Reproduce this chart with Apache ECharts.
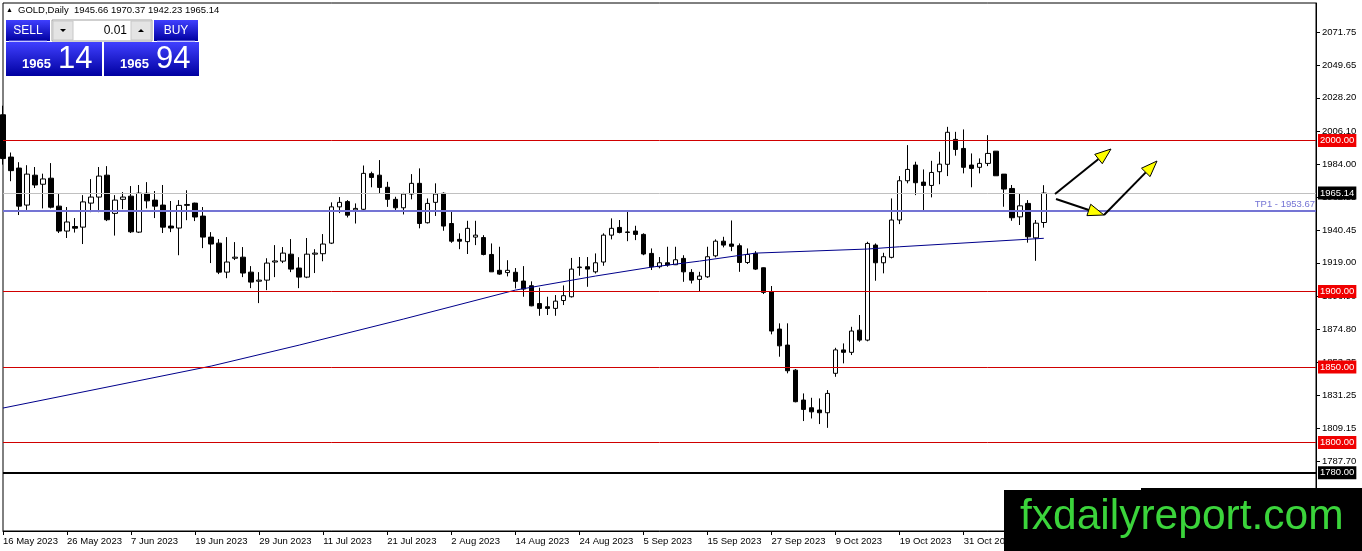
<!DOCTYPE html>
<html>
<head>
<meta charset="utf-8">
<title>GOLD Daily</title>
<script src="https://cdn.jsdelivr.net/npm/echarts@6.0.0/dist/echarts.min.js"></script>
<style>
html,body{margin:0;padding:0;background:#fff;}
#main{width:1362px;height:551px;}
</style>
</head>
<body>
<div id="main"></div>
<script>
// daily OHLC, 16 May 2023 .. 14 Nov 2023
var opens = [2017,1989,1981.7,1957.2,1977,1971,1975,1956.5,1940,1943,
  1942.6,1958.5,1962.5,1977,1951.7,1961,1963.1,1939.3,1965,1960.5,
  1957.2,1943.3,1942,1957,1958.5,1949.9,1936,1932,1912.8,1922,
  1922.7,1912.8,1906.8,1907.5,1919.5,1920.1,1924.7,1915.5,1909.5,1924.7,
  1925,1932,1956,1959.5,1954,1954.4,1978,1977,1969,1961,
  1955.4,1964.5,1971.6,1945.5,1959,1965,1945,1934.5,1933,1936,
  1935.7,1924.5,1914,1912.5,1912.7,1906.9,1903.8,1892,1889.9,1888.8,
  1894,1896.5,1915.8,1916.4,1913,1919.5,1937.3,1942.4,1939.4,1940,
  1937.8,1925.2,1916.4,1919,1917.7,1921.9,1912.6,1908,1909.7,1923.6,
  1933.3,1931.4,1930.3,1919.2,1925.2,1915.7,1899.8,1875.1,1864.5,1847.9,
  1828.1,1823,1821.5,1819.7,1845.8,1861.3,1859.7,1874.4,1867.8,1930.7,
  1919,1922.6,1947.3,1973.3,1983.7,1972.4,1970.2,1979.3,1984.2,2000.7,
  1994.7,1983.7,1982.2,1984.8,1992.9,1977.7,1968.2,1949.4,1958.3,1935.5,
  1945.66];
var highs = [2023,1992,1985.6,1983.6,1982.4,1978,1985,1964.5,1955.9,1948.6,
  1963.8,1974.4,1982.4,1983,1963.8,1965.8,1969.8,1970.5,1972.4,1966.5,
  1970.5,1959.9,1960.5,1967,1958.8,1955.9,1939.3,1934.7,1936,1932.7,
  1929.4,1916.8,1912.8,1922,1930.7,1929.4,1934.7,1922.7,1935.4,1928,
  1938,1959,1962.5,1960.5,1958.3,1983.4,1979.3,1987,1972.6,1962.7,
  1965.3,1977.7,1981.5,1961.6,1971.6,1965.6,1952.8,1938.5,1946.8,1946.8,
  1937.3,1931.8,1929.6,1920.7,1915.5,1916.8,1906.7,1902.5,1896.5,1897.6,
  1904,1922.2,1922.8,1922.8,1925.2,1938.5,1948.4,1947.3,1952.8,1943.5,
  1938.5,1928.5,1922.8,1929.6,1929.6,1924,1914.8,1913,1929.6,1934.5,
  1936.2,1947,1931.8,1928.5,1926.7,1915.9,1903.6,1878.9,1878.9,1848.6,
  1832.5,1829.6,1829.2,1834.7,1862.7,1865.6,1876.6,1884.4,1932.9,1931.8,
  1925.6,1961.6,1976.4,1996.9,1985.9,1980.8,1986.5,1992.5,2009,2005.7,
  2007.3,1991.4,1988.1,2003.5,1993,1977.7,1970.5,1964.5,1960.5,1947.3,
  1970.37];
var lows = [1984,1973,1950.6,1954,1968.5,1955,1955,1938.7,1935.4,1939,
  1931.4,1952.5,1952.5,1946.6,1937,1954.5,1938.7,1938.7,1955,1948.6,
  1938.7,1939.3,1924,1947.2,1946.6,1928.7,1918.8,1911.5,1908.8,1920.8,
  1909.5,1902.2,1892.3,1900.9,1909.5,1918.8,1912.8,1902.2,1908.8,1912.2,
  1920,1931.4,1951.9,1949,1945,1953.5,1969,1964.9,1956,1952.8,
  1951,1961,1941.8,1945,1950,1940.2,1932.2,1928,1924.8,1930.7,
  1923.9,1913,1911,1910,1902,1896.5,1890.2,1883.9,1884.4,1883.9,
  1891,1896,1910.4,1903.1,1911.9,1917,1934.5,1938.5,1933.3,1934,
  1924,1914.2,1915.3,1916.4,1917.5,1906.4,1905.3,1900.3,1909,1922.6,
  1929.2,1926.7,1913,1918.2,1914.2,1898.3,1871.6,1856.8,1845.8,1826.6,
  1814.2,1815.9,1812.2,1809.7,1843.5,1852.4,1857.9,1866.7,1867,1907.1,
  1912,1921.9,1944.6,1971.6,1963.8,1953.4,1962.3,1971,1976.4,1989.9,
  1978.2,1969,1978.2,1983,1976.6,1956.1,1946.8,1944,1932.3,1920.3,
  1942.23];
var closes = [1988,1980,1956.5,1977.7,1970.5,1974.5,1955.8,1940,1946,1941.9,
  1959.3,1962.5,1976.4,1947.5,1960.5,1962.5,1939.5,1965.1,1960,1956.5,
  1942.6,1942,1957,1957.6,1949.3,1936,1931.4,1912.8,1919.5,1922.7,
  1912.2,1906.2,1907.5,1918.8,1920.2,1925.4,1914.8,1909.5,1924.7,1925.4,
  1931.4,1956,1959,1950.5,1955,1978.2,1975.5,1968.9,1961,1955.4,
  1964.5,1971.6,1945,1958.3,1964.5,1943.3,1933.3,1933.3,1941.8,1937.3,
  1924.5,1913,1911.5,1914,1906.7,1901.6,1890.5,1888.8,1888.8,1893.6,
  1897.2,1914.8,1916.2,1914.8,1919,1937.3,1941.8,1939.1,1939.1,1937.8,
  1924.8,1916.4,1919,1917.5,1921,1913,1907.5,1910.2,1923,1933.3,
  1930.7,1929.9,1919.2,1924.5,1914.8,1899.4,1873.8,1864,1847.5,1827,
  1821.9,1820.3,1819.7,1832.5,1861.3,1859.7,1873.8,1867.8,1931.8,1919,
  1923,1947.3,1973.3,1980.8,1972,1970.2,1978.8,1984.3,2005.4,1994,
  1982.2,1981.5,1984.8,1991.4,1976.6,1967.8,1948.8,1956.7,1936.2,1945.2,
  1965.14];

// moving average, points read at some bars: [bar, price]
var maPoints = [[0,1822.8],[16,1839.9],[26,1850.6],[37,1864.5],[50,1881.7],
  [64,1900.9],[74,1910.2],[81,1916.1],[87,1920.1],[94,1925.4],
  [108,1928.1],[112,1929.6],[130,1935.2]];

var priceTicks = [2071.75,2049.65,2028.20,2006.10,1984.00,1962.55,1940.45,
  1919.00,1896.90,1874.80,1853.35,1831.25,1809.15,1787.70];
var redLevels = [2000,1900,1850,1800];
var bidPrice = 1965.14;
var tpPrice = 1953.67;
var floorPrice = 1780;
var bidParts = ['1965','14'];
var askParts = ['1965','94'];
var lotSize = '0.01';

// weekday calendar for the time axis (bars + empty space on the right)
var months = ['Jan','Feb','Mar','Apr','May','Jun','Jul','Aug','Sep','Oct','Nov','Dec'];
var dates = [];
var d = new Date(Date.UTC(2023, 4, 16));
while (dates.length < 165) {
    var wd = d.getUTCDay();
    if (wd !== 0 && wd !== 6) {
        dates.push(d.getUTCDate() + ' ' + months[d.getUTCMonth()] + ' ' + d.getUTCFullYear());
    }
    d.setUTCDate(d.getUTCDate() + 1);
}

var candles = opens.map(function (o, i) {
    return [o, closes[i], lows[i], highs[i]];
});

var FONT = 'Liberation Sans';
var everyEighth = function (i) { return i % 8 === 0; };

function levelLine(v, color, bg, width) {
    return {
        yAxis: v,
        lineStyle: {color: color, width: width || 1, type: 'solid'},
        label: {
            show: true, position: 'end', distance: 2,
            formatter: v.toFixed(2),
            color: '#fff', backgroundColor: bg,
            fontFamily: FONT, fontSize: 9.5, padding: [2, 2, 1, 2]
        }
    };
}

var markData = redLevels.map(function (v) { return levelLine(v, '#d00000', '#f00000'); });
markData.push(levelLine(floorPrice, '#000', '#000', 2));
markData.push(levelLine(bidPrice, '#c0c0c0', '#000'));
markData.push({
    yAxis: tpPrice,
    lineStyle: {color: '#7474d4', width: 2, type: 'solid'},
    label: {
        show: true, position: 'insideEndTop', distance: 1,
        formatter: 'TP1 - ' + tpPrice.toFixed(2),
        color: '#7474d4', fontFamily: FONT, fontSize: 9.5
    }
});

// pictures drawn on top of the chart
function arrow(x1, y1, x2, y2) {
    var a = Math.atan2(y2 - y1, x2 - x1), len = 16, half = 6;
    var bx = x2 - len * Math.cos(a), by = y2 - len * Math.sin(a);
    var px = -Math.sin(a) * half, py = Math.cos(a) * half;
    return [
        {type: 'line', z: 50, shape: {x1: x1, y1: y1, x2: bx, y2: by}, style: {stroke: '#000', lineWidth: 2}},
        {type: 'polygon', z: 51, shape: {points: [[x2, y2], [bx + px, by + py], [bx - px, by - py]]},
            style: {fill: '#ffff00', stroke: '#000', lineWidth: 1}}
    ];
}

var blue = {type: 'linear', x: 0, y: 0, x2: 0, y2: 1,
    colorStops: [{offset: 0, color: '#4040ff'}, {offset: 1, color: '#0000a0'}]};

function priceBox(x, w, parts) {
    return [
        {type: 'rect', z: 60, shape: {x: x, y: 42, width: w, height: 34}, style: {fill: blue}},
        {type: 'text', z: 61, style: {x: x + 16, y: 71, text: parts[0], fill: '#fff',
            font: 'bold 13px ' + FONT, textVerticalAlign: 'bottom'}},
        {type: 'text', z: 61, style: {x: x + 52, y: 75, text: parts[1], fill: '#fff',
            font: '31px ' + FONT, textVerticalAlign: 'bottom'}}
    ];
}

function button(x, label) {
    return [
        {type: 'rect', z: 60, shape: {x: x, y: 20, width: 44, height: 21}, style: {fill: blue}},
        {type: 'line', z: 61, shape: {x1: x + 3, y1: 41, x2: x + 41, y2: 41}, style: {stroke: '#8c8cff', lineWidth: 1}},
        {type: 'text', z: 61, style: {x: x + 22, y: 31, text: label, fill: '#fff',
            font: '12px ' + FONT, textAlign: 'center', textVerticalAlign: 'middle'}}
    ];
}

var graphics = [].concat(
    [{type: 'text', z: 60, style: {x: 6, y: 10, text: '\u25B2', fill: '#000', font: '7px ' + FONT, textVerticalAlign: 'middle'}},
     {type: 'text', z: 60, style: {x: 18, y: 10,
        text: 'GOLD,Daily  ' + [opens[130], highs[130], lows[130], closes[130]].map(function (v) { return v.toFixed(2); }).join(' '),
        fill: '#000', font: '9.5px ' + FONT, textVerticalAlign: 'middle'}}],
    button(6, 'SELL'),
    button(154, 'BUY'),
    [{type: 'rect', z: 60, shape: {x: 52, y: 20, width: 100, height: 21}, style: {fill: '#fff', stroke: '#a0a0a0', lineWidth: 1}},
     {type: 'rect', z: 61, shape: {x: 53, y: 21, width: 20, height: 19}, style: {fill: '#e4e4e4', stroke: '#c8c8c8'}},
     {type: 'rect', z: 61, shape: {x: 131, y: 21, width: 20, height: 19}, style: {fill: '#e4e4e4', stroke: '#c8c8c8'}},
     {type: 'polygon', z: 62, shape: {points: [[60, 29], [66, 29], [63, 32]]}, style: {fill: '#000'}},
     {type: 'polygon', z: 62, shape: {points: [[138, 32], [144, 32], [141, 29]]}, style: {fill: '#000'}},
     {type: 'text', z: 62, style: {x: 127, y: 31, text: lotSize, fill: '#000', font: '12px ' + FONT,
        textAlign: 'right', textVerticalAlign: 'middle'}}],
    priceBox(6, 96, bidParts),
    priceBox(104, 95, askParts),
    arrow(1055, 194, 1111, 149),
    arrow(1056, 199, 1104, 215),
    arrow(1104, 215, 1157, 161),
    [{type: 'rect', z: 90, shape: {x: 1004, y: 490, width: 358, height: 61}, style: {fill: '#000'}},
     {type: 'rect', z: 90, shape: {x: 1141, y: 488, width: 221, height: 4}, style: {fill: '#000'}},
     {type: 'text', z: 91, style: {x: 1020, y: 517, text: 'fxdailyreport.com', fill: '#3bd43b',
        font: '42.5px ' + FONT, textVerticalAlign: 'middle'}}]
);

var myChart = echarts.init(document.getElementById('main'));
var option = {
    animation: false,
    backgroundColor: '#fff',
    grid: {left: 3, right: 46, top: 3, bottom: 20, show: true, borderColor: '#000', borderWidth: 1},
    xAxis: {
        type: 'category',
        data: dates,
        boundaryGap: false,
        axisLine: {lineStyle: {color: '#000', width: 1}},
        axisTick: {show: true, interval: everyEighth, length: 4, lineStyle: {color: '#000'}},
        axisLabel: {
            interval: everyEighth, align: 'left', margin: 5,
            color: '#000', fontFamily: FONT, fontSize: 9.5
        },
        splitLine: {show: false}
    },
    yAxis: {
        type: 'value',
        position: 'right',
        min: 1741.4,
        max: 2091.0,
        scale: true,
        axisLine: {show: true, lineStyle: {color: '#000', width: 1}},
        axisTick: {show: true, customValues: priceTicks, length: 4, lineStyle: {color: '#000'}},
        axisLabel: {
            customValues: priceTicks, margin: 6,
            formatter: function (v) { return v.toFixed(2); },
            color: '#000', fontFamily: FONT, fontSize: 9.5
        },
        splitLine: {show: false}
    },
    series: [
        {
            name: 'GOLD',
            type: 'candlestick',
            data: candles,
            barWidth: 5,
            itemStyle: {
                color: '#fff', color0: '#000',
                borderColor: '#000', borderColor0: '#000', borderWidth: 1
            },
            markLine: {symbol: 'none', silent: true, animation: false, data: markData}
        },
        {
            name: 'MA',
            type: 'line',
            data: maPoints,
            symbol: 'none',
            lineStyle: {color: '#00008b', width: 1},
            z: 3
        }
    ],
    graphic: graphics
};
myChart.setOption(option);
</script>
</body>
</html>
